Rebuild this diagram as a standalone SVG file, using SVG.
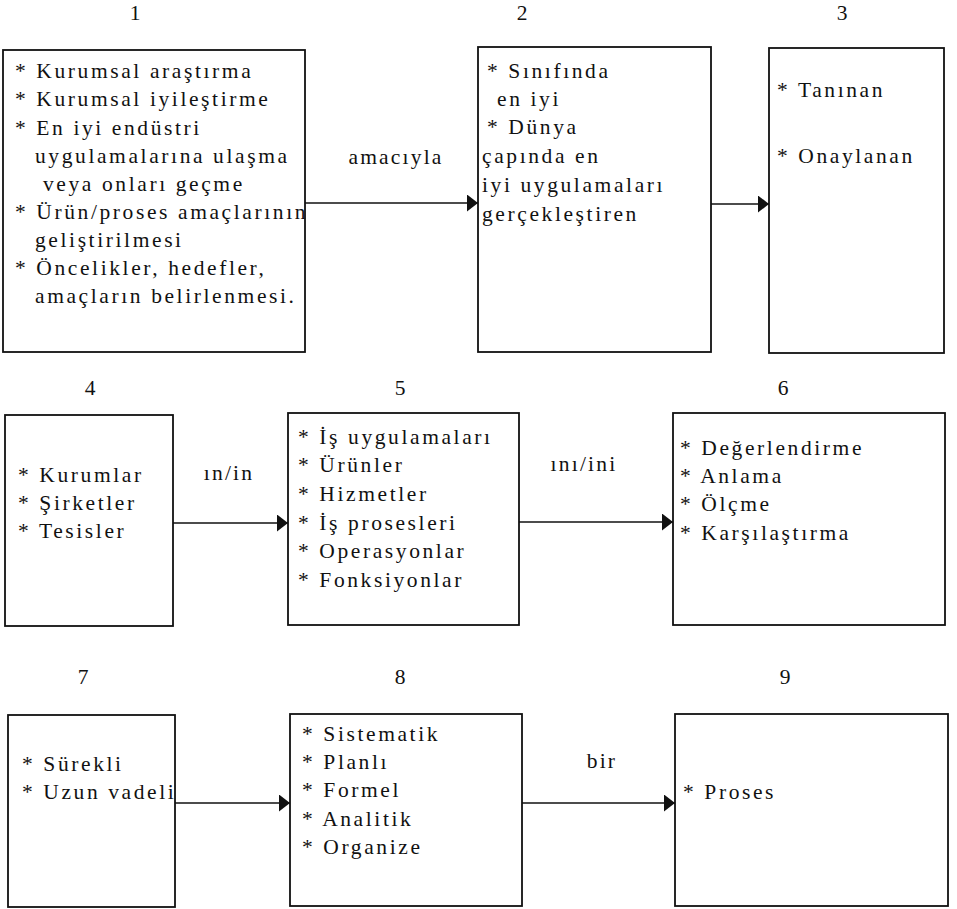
<svg xmlns="http://www.w3.org/2000/svg" width="957" height="909" viewBox="0 0 957 909">
<style>
  .box { fill: #fff; stroke: #111; stroke-width: 1.8; }
  .t { font-family: "Liberation Serif", "Times New Roman", serif; font-size: 21.5px; fill: #111; letter-spacing: 2.6px; }
  .num { font-family: "Liberation Serif", "Times New Roman", serif; font-size: 21.5px; fill: #111; text-anchor: middle; }
  .lbl { font-family: "Liberation Serif", "Times New Roman", serif; font-size: 21.5px; fill: #111; text-anchor: middle; letter-spacing: 2.2px; }
  .conn { stroke: #111; stroke-width: 1.6; fill: none; marker-end: url(#arr); }
</style>
<defs>
  <marker id="arr" markerUnits="userSpaceOnUse" markerWidth="11" markerHeight="17" refX="11" refY="8.5" orient="auto">
    <path d="M0,0 L11,8.5 L0,17 Z" fill="#111"/>
  </marker>
</defs>
<rect width="957" height="909" fill="#fff"/>

<g id="connectors">
  <line class="conn" x1="305" y1="203" x2="478" y2="203"/>
  <line class="conn" x1="711" y1="204" x2="769" y2="204"/>
  <line class="conn" x1="173" y1="523" x2="288" y2="523"/>
  <line class="conn" x1="519" y1="522" x2="673" y2="522"/>
  <line class="conn" x1="175" y1="803" x2="290" y2="803"/>
  <line class="conn" x1="522" y1="803" x2="675" y2="803"/>
  <text class="lbl" x="396" y="164">amacıyla</text>
  <text class="lbl" x="229" y="480">ın/in</text>
  <text class="lbl" x="584" y="471">ını/ini</text>
  <text class="lbl" x="602" y="768">bir</text>
</g>

<g id="node1">
  <text class="num" x="135" y="20">1</text>
  <rect class="box" x="3" y="50" width="302" height="302"/>
  <text class="t" x="15" y="78">* Kurumsal araştırma</text>
  <text class="t" x="15" y="106">* Kurumsal iyileştirme</text>
  <text class="t" x="15" y="135">* En iyi endüstri</text>
  <text class="t" x="35" y="163">uygulamalarına ulaşma</text>
  <text class="t" x="43" y="191">veya onları geçme</text>
  <text class="t" x="15" y="219">* Ürün/proses amaçlarının</text>
  <text class="t" x="35" y="247">geliştirilmesi</text>
  <text class="t" x="15" y="275">* Öncelikler, hedefler,</text>
  <text class="t" x="35" y="303">amaçların belirlenmesi.</text>
</g>

<g id="node2">
  <text class="num" x="522" y="20">2</text>
  <rect class="box" x="478" y="47" width="233" height="305"/>
  <text class="t" x="487" y="78">* Sınıfında</text>
  <text class="t" x="497" y="106">en iyi</text>
  <text class="t" x="487" y="134">* Dünya</text>
  <text class="t" x="482" y="163">çapında en</text>
  <text class="t" x="482" y="192">iyi uygulamaları</text>
  <text class="t" x="482" y="221">gerçekleştiren</text>
</g>

<g id="node3">
  <text class="num" x="842" y="20">3</text>
  <rect class="box" x="769" y="48" width="175" height="305"/>
  <text class="t" x="777" y="97">* Tanınan</text>
  <text class="t" x="777" y="163">* Onaylanan</text>
</g>

<g id="node4">
  <text class="num" x="90" y="395">4</text>
  <rect class="box" x="5" y="415" width="168" height="211"/>
  <text class="t" x="18" y="482">* Kurumlar</text>
  <text class="t" x="18" y="510">* Şirketler</text>
  <text class="t" x="18" y="538">* Tesisler</text>
</g>

<g id="node5">
  <text class="num" x="400" y="395">5</text>
  <rect class="box" x="288" y="413" width="231" height="212"/>
  <text class="t" x="298" y="444">* İş uygulamaları</text>
  <text class="t" x="298" y="472">* Ürünler</text>
  <text class="t" x="298" y="501">* Hizmetler</text>
  <text class="t" x="298" y="530">* İş prosesleri</text>
  <text class="t" x="298" y="558">* Operasyonlar</text>
  <text class="t" x="298" y="587">* Fonksiyonlar</text>
</g>

<g id="node6">
  <text class="num" x="783" y="395">6</text>
  <rect class="box" x="673" y="413" width="272" height="212"/>
  <text class="t" x="680" y="455">* Değerlendirme</text>
  <text class="t" x="680" y="483">* Anlama</text>
  <text class="t" x="680" y="511">* Ölçme</text>
  <text class="t" x="680" y="540">* Karşılaştırma</text>
</g>

<g id="node7">
  <text class="num" x="83" y="684">7</text>
  <rect class="box" x="8" y="715" width="167" height="192"/>
  <text class="t" x="22" y="771">* Sürekli</text>
  <text class="t" x="22" y="799">* Uzun vadeli</text>
</g>

<g id="node8">
  <text class="num" x="400" y="684">8</text>
  <rect class="box" x="290" y="714" width="232" height="192"/>
  <text class="t" x="302" y="741">* Sistematik</text>
  <text class="t" x="302" y="769">* Planlı</text>
  <text class="t" x="302" y="797">* Formel</text>
  <text class="t" x="302" y="826">* Analitik</text>
  <text class="t" x="302" y="854">* Organize</text>
</g>

<g id="node9">
  <text class="num" x="785" y="684">9</text>
  <rect class="box" x="675" y="714" width="273" height="192"/>
  <text class="t" x="683" y="799">* Proses</text>
</g>
</svg>
